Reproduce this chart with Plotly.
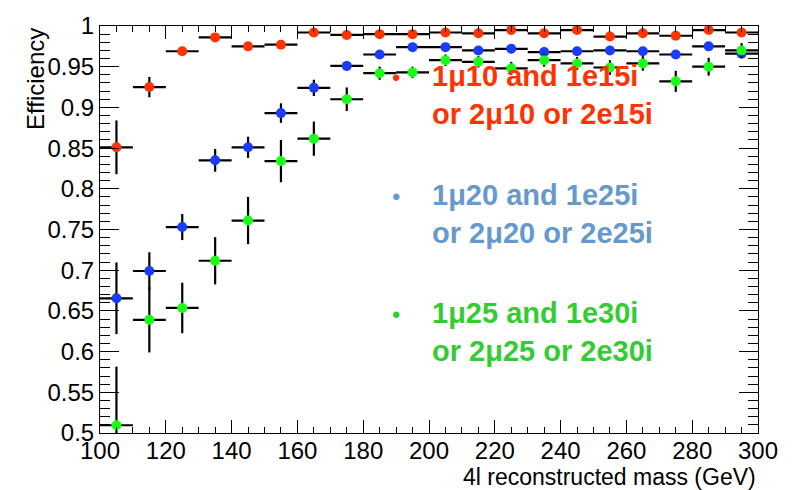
import plotly.graph_objects as go

mass = [105, 115, 125, 135, 145, 155, 165, 175, 185, 195,
        205, 215, 225, 235, 245, 255, 265, 275, 285, 295]
half_bin = [5] * 20

eff_red = [0.851, 0.925, 0.969, 0.986, 0.975, 0.977, 0.992, 0.989, 0.990, 0.990,
           0.992, 0.991, 0.995, 0.991, 0.995, 0.987, 0.991, 0.988, 0.995, 0.992]
err_red = [0.033, 0.0125, 0.004, 0.003, 0.003, 0.003, 0.002, 0.002, 0.002, 0.002,
           0.002, 0.002, 0.002, 0.002, 0.002, 0.002, 0.002, 0.002, 0.002, 0.002]

eff_blue = [0.6655, 0.699, 0.753, 0.835, 0.851, 0.893, 0.924, 0.951, 0.965, 0.974,
            0.974, 0.970, 0.972, 0.968, 0.969, 0.970, 0.969, 0.965, 0.975, 0.966]
err_blue = [0.044, 0.023, 0.016, 0.014, 0.013, 0.012, 0.010, 0.006, 0.005, 0.004,
            0.004, 0.004, 0.004, 0.005, 0.004, 0.004, 0.004, 0.005, 0.004, 0.005]

eff_green = [0.5095, 0.639, 0.6536, 0.7116, 0.761, 0.834, 0.8616, 0.910, 0.942, 0.943,
             0.958, 0.956, 0.948, 0.958, 0.954, 0.949, 0.954, 0.932, 0.950, 0.970]
err_green = [0.072, 0.040, 0.031, 0.029, 0.029, 0.026, 0.021, 0.0145, 0.008, 0.007,
             0.007, 0.007, 0.008, 0.008, 0.008, 0.009, 0.009, 0.013, 0.011, 0.009]

series = [
    ("red", eff_red, err_red, "#ff3300"),
    ("blue", eff_blue, err_blue, "#1a3cff"),
    ("green", eff_green, err_green, "#1aff1a"),
]

legend_lines = [
    ("1μ10 and 1e15i<br>or 2μ10 or 2e15i", "#ff3300", 0.830),
    ("1μ20 and 1e25i<br>or 2μ20 or 2e25i", "#6699cc", 0.538),
    ("1μ25 and 1e30i<br>or 2μ25 or 2e30i", "#33cc33", 0.249),
]

fig = go.Figure()
for name, y, e, c in series:
    fig.add_trace(go.Scatter(
        x=mass, y=y, mode="markers", name=name,
        marker=dict(color=c, size=10, line=dict(width=0)),
        error_y=dict(type="data", array=e, color="black", thickness=2.2, width=0),
        error_x=dict(type="data", array=half_bin, color="black", thickness=2.2, width=0),
        showlegend=False,
    ))

font = "Liberation Sans, Arial, sans-serif"
axis_common = dict(
    showline=True, linecolor="black", linewidth=1, mirror="allticks",
    ticks="inside", tickcolor="black", tickwidth=1,
    showgrid=False, zeroline=False,
    tickfont=dict(family=font, size=24, color="black"),
)
fig.update_xaxes(range=[100, 300], dtick=20, tick0=100, ticklen=13,
                 ticklabelstandoff=-4,
                 minor=dict(dtick=5, ticklen=6, ticks="inside", tickcolor="black", showgrid=False),
                 **axis_common)
fig.update_yaxes(range=[0.5, 1], dtick=0.05, tick0=0.5, ticklen=19,
                 minor=dict(dtick=0.01, ticklen=10, ticks="inside", tickcolor="black", showgrid=False),
                 **axis_common)

annotations = []
for text, col, yc in legend_lines:
    annotations.append(dict(xref="paper", yref="paper", x=0.5015, y=yc, text=text,
                            showarrow=False, xanchor="left", yanchor="middle", align="left",
                            font=dict(family=font, size=29, color=col, weight="bold")))
    annotations.append(dict(xref="paper", yref="paper", x=0.45, y=yc + 0.043, text="•",
                            showarrow=False, xanchor="center", yanchor="middle",
                            font=dict(family=font, size=24, color=col)))
annotations.append(dict(xref="paper", yref="paper", x=1.0, y=-0.1074,
                        text="4l reconstructed mass (GeV)", showarrow=False,
                        xanchor="right", yanchor="middle",
                        font=dict(family=font, size=23, color="black")))
annotations.append(dict(xref="paper", yref="paper", x=-0.0988, y=1.0,
                        text="Efficiency", showarrow=False, textangle=-90,
                        xanchor="center", yanchor="top",
                        font=dict(family=font, size=24, color="black")))

fig.update_layout(
    width=796, height=490,
    margin=dict(l=100, r=38, t=14, b=57, pad=0),
    paper_bgcolor="white", plot_bgcolor="white",
    annotations=annotations,
)
fig.write_html("out.html")
